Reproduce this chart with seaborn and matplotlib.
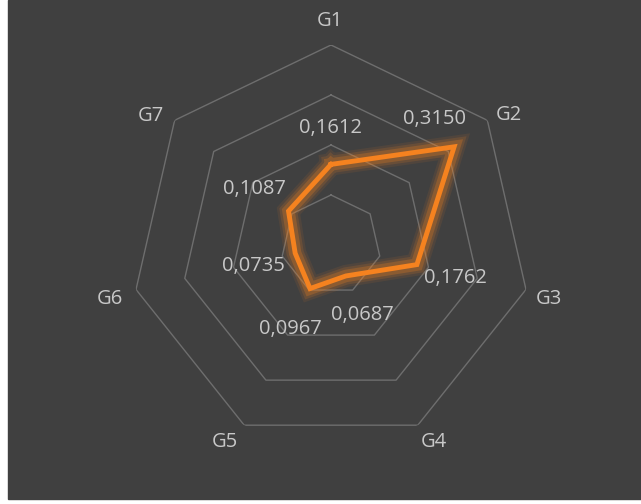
import numpy as np
import pandas as pd
import matplotlib
matplotlib.use("Agg")
import matplotlib.pyplot as plt
import matplotlib.patheffects as pe
from matplotlib.patches import Rectangle
import seaborn as sns

categories = ["G1", "G2", "G3", "G4", "G5", "G6", "G7"]
values = [0.1612, 0.3150, 0.1762, 0.0687, 0.0967, 0.0735, 0.1087]
ring_levels = [0.1, 0.2, 0.3, 0.4]

plt.rcParams['font.family'] = ['Open Sans', 'DejaVu Sans']

BG = "#404040"
TXT = "#c8c8c8"
GRID = "#6e6e6e"
ORANGE = "#f5821f"

fig = plt.figure(figsize=(6.41, 5.04), dpi=100, facecolor="white")
fig.patches.append(Rectangle((8/641, 5/504), 1 - 8/641, 1 - 5/504,
                             transform=fig.transFigure, color=BG, zorder=-10))

ax = fig.add_axes([131/641, 59/504, 400/641, 400/504], projection="polar")
ax.set_theta_offset(np.pi/2)
ax.set_theta_direction(-1)
ax.patch.set_alpha(0)
ax.grid(False)
ax.spines['polar'].set_visible(False)

n = len(categories)
theta = np.linspace(0, 2*np.pi, n, endpoint=False)
theta_closed = np.append(theta, theta[0] + 2*np.pi)

# heptagonal grid rings
for lvl in ring_levels:
    ax.plot(theta_closed, [lvl]*(n+1), color=GRID, linewidth=1.0, zorder=1)

df = pd.DataFrame({"theta": theta_closed, "value": values + [values[0]]})
sns.lineplot(data=df, x="theta", y="value", sort=False, estimator=None, ax=ax,
             color=ORANGE, linewidth=3.5, zorder=3,
             solid_joinstyle="miter",
             path_effects=[pe.Stroke(linewidth=16, foreground=ORANGE, alpha=0.09),
                           pe.Stroke(linewidth=12.5, foreground=ORANGE, alpha=0.15),
                           pe.Stroke(linewidth=9, foreground=ORANGE, alpha=0.25),
                           pe.Normal()])

ax.set_ylim(0, 0.4)
ax.set_xticks([])
ax.set_yticks([])
ax.set_xlabel("")
ax.set_ylabel("")

FS = 14.5
# category labels, placed next to the outer ring vertices
cat_offsets = [(-1, 24), (22, 5), (23, -9), (16, -17), (-19, -17), (-26, -9), (-24, 4)]
for t, c, off in zip(theta, categories, cat_offsets):
    ax.annotate(c, xy=(t, ring_levels[-1]), xytext=off,
                textcoords="offset pixels", ha="center", va="center",
                color=TXT, fontsize=FS, annotation_clip=False)

# data labels
offsets = [(0, 36), (-20, 28), (39, -13), (16, -39), (-20, -40), (-42, -13), (-34, 22)]
for t, v, off in zip(theta, values, offsets):
    ax.annotate(f"{v:.4f}".replace(".", ","), xy=(t, v), xytext=off,
                textcoords="offset pixels", ha="center", va="center",
                color=TXT, fontsize=FS, annotation_clip=False)

fig.savefig("out.png", dpi=100, facecolor=fig.get_facecolor())
